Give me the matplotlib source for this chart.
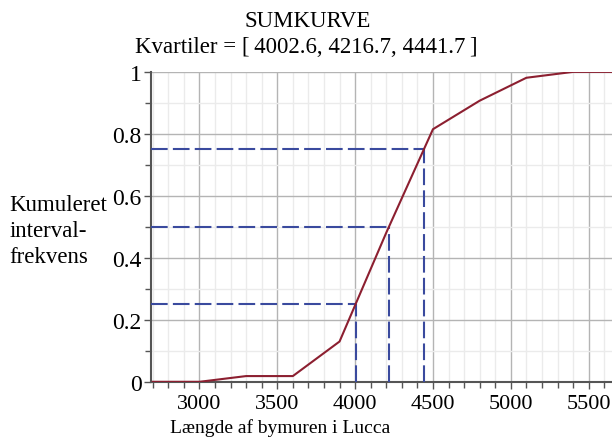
import numpy as np
import matplotlib
matplotlib.use('Agg')
import matplotlib.pyplot as plt
from matplotlib.ticker import MultipleLocator

# data: cumulative relative frequency per interval end point
lengths   = [2700, 3000, 3300, 3600, 3900, 4200, 4500, 4800, 5100, 5400, 5700]
cum_freq  = [0.0, 0.0, 0.0185, 0.0185, 0.13, 0.481, 0.815, 0.907, 0.981, 1.0, 1.0]
quartiles = [4002.6, 4216.7, 4441.7]
q_levels  = [0.25, 0.5, 0.75]
y_ticks   = [0, 0.2, 0.4, 0.6, 0.8, 1]
y_labels  = ['0', '0.2', '0.4', '0.6', '0.8', '1']

RED  = '#8c1f30'
BLUE = '#3a4a9e'
plt.rcParams['font.family'] = ['Liberation Serif', 'DejaVu Serif']

fig = plt.figure(figsize=(6.12, 4.39), dpi=100)
ax = fig.add_axes([0.247, 0.128, 0.753, 0.706])

XMIN, XMAX = 2690, 5650
ax.set_xlim(XMIN, XMAX)
ax.set_ylim(0, 1)

# grid
ax.xaxis.set_major_locator(MultipleLocator(500))
ax.xaxis.set_minor_locator(MultipleLocator(100))
ax.yaxis.set_major_locator(MultipleLocator(0.2))
ax.yaxis.set_minor_locator(MultipleLocator(0.1))
ax.grid(which='major', color='#b4b4b4', lw=1.0)
ax.grid(which='minor', color='#ebebeb', lw=1.0)
ax.set_axisbelow(True)

# quartile guide lines
dash = (0, (8, 2.5))
for q, lv in zip(quartiles, q_levels):
    ax.plot([XMIN, q], [lv, lv], color=BLUE, lw=1.5, linestyle=dash, zorder=3)
    ax.plot([q, q], [0, lv], color=BLUE, lw=1.5, linestyle=dash, zorder=3)

ax.plot(lengths, cum_freq, color=RED, lw=1.5, zorder=4, clip_on=True)

ax.set_yticks(y_ticks)
ax.set_yticklabels(y_labels)
ax.tick_params(axis='both', which='major', labelsize=16, length=5,
               color='#555555', width=1)
ax.tick_params(axis='y', which='major', labelsize=17, pad=2)
ax.tick_params(axis='both', which='minor', length=4, color='#555555', width=1)

ax.spines[['top', 'right']].set_visible(False)
for s in ['left', 'bottom']:
    ax.spines[s].set_color('#555555')
    ax.spines[s].set_linewidth(1.5)

fig.text(0.502, 0.952, 'SUMKURVE', ha='center', va='center', fontsize=16.5)
fig.text(0.5, 0.892, 'Kvartiler = [\u20094002.6, 4216.7, 4441.7\u2009]',
         ha='center', va='center', fontsize=16.5)
fig.text(0.015, 0.472, 'Kumuleret\ninterval-\nfrekvens', ha='left', va='center',
         fontsize=16.5, linespacing=1.3)
fig.text(0.458, 0.004, 'Længde af bymuren i Lucca', ha='center', va='bottom',
         fontsize=14)

fig.savefig('out.png', dpi=100)
